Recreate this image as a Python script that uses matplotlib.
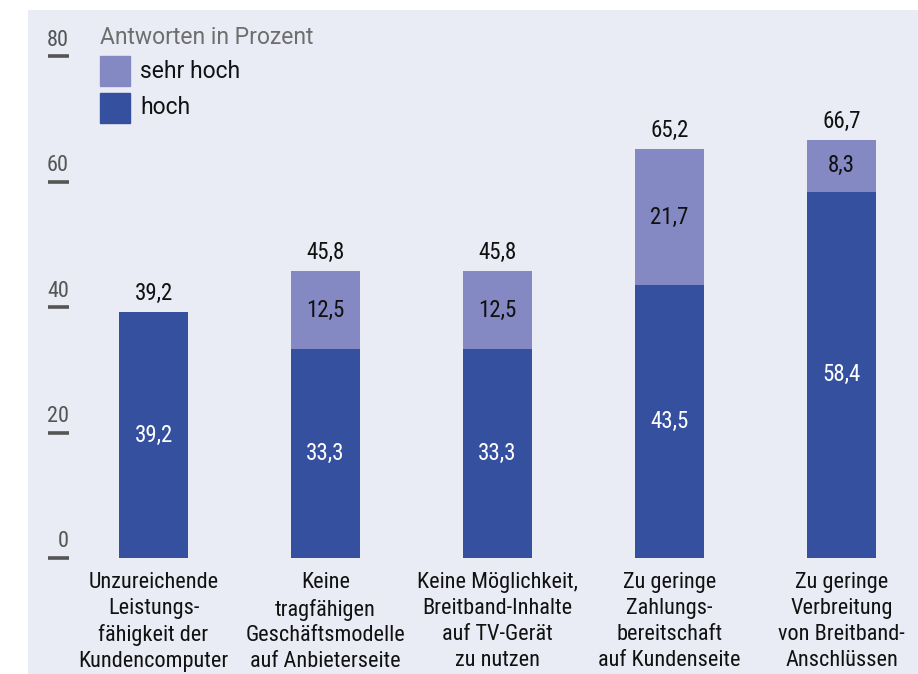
import os
import matplotlib
import matplotlib.pyplot as plt
import matplotlib.transforms as mtransforms
from matplotlib import font_manager

categories = ['Unzureichende\nLeistungs-\nfähigkeit der\nKundencomputer',
              'Keine\ntragfähigen\nGeschäftsmodelle\nauf Anbieterseite',
              'Keine Möglichkeit,\nBreitband-Inhalte\nauf TV-Gerät\nzu nutzen',
              'Zu geringe\nZahlungs-\nbereitschaft\nauf Kundenseite',
              'Zu geringe\nVerbreitung\nvon Breitband-\nAnschlüssen']
hoch = [39.2, 33.3, 33.3, 43.5, 58.4]
sehr_hoch = [0, 12.5, 12.5, 21.7, 8.3]
totals = [39.2, 45.8, 45.8, 65.2, 66.7]
yticks = [0, 20, 40, 60, 80]

bg = '#EAECF5'
c_hoch = '#34509E'
c_sehr = '#8489C4'

# look for a narrow font, the original uses a condensed grotesk
wanted = ['LiberationSansNarrow-Regular', 'RobotoCondensed-Regular', 'DejaVuSansCondensed.ttf']
font_path = None
for w in wanted:
    for f in font_manager.fontManager.ttflist:
        if w in os.path.basename(f.fname):
            font_path = f.fname
            break
    if font_path:
        break
if font_path:
    fp = font_manager.FontProperties(fname=font_path)
    scale = 1.0
else:
    fp = font_manager.FontProperties(family='Roboto')
    scale = 0.93


def txt(size):
    p = fp.copy()
    p.set_size(size * scale)
    return p


W, H = 918, 674
fig = plt.figure(figsize=(W / 100, H / 100), dpi=100)
fig.patch.set_facecolor('white')

# panel covers x 28..918, y 10..674 (pixels from top)
ax = fig.add_axes([28 / W, 0, 1 - 28 / W, 1 - 10 / H])
ax.set_facecolor(bg)
for s in ax.spines.values():
    s.set_visible(False)
ax.set_xticks([])
ax.set_yticks([])

px_unit = 6.27
x0, dx = 153.5, 172.0
ax.set_xlim((28 - x0) / dx, (918 - x0) / dx)
ax.set_ylim(-(674 - 558) / px_unit, (558 - 10) / px_unit)

x = list(range(len(categories)))
ax.bar(x, hoch, width=0.4, color=c_hoch)
ax.bar(x, sehr_hoch, width=0.4, bottom=hoch, color=c_sehr)

fs = 16
fs_val = 16.5
for i in x:
    ax.text(i, hoch[i] / 2, f'{hoch[i]:.1f}'.replace('.', ','), ha='center', va='center',
            color='white', fontproperties=txt(fs_val))
    if sehr_hoch[i] > 0:
        ax.text(i, hoch[i] + sehr_hoch[i] / 2, f'{sehr_hoch[i]:.1f}'.replace('.', ','),
                ha='center', va='center', color='#111111', fontproperties=txt(fs_val))
    ax.annotate(f'{totals[i]:.1f}'.replace('.', ','), (i, totals[i]), xytext=(0, 5),
                textcoords='offset points', ha='center', va='bottom', color='#111111',
                fontproperties=txt(fs_val))
    ax.text(i, -2.3, categories[i], ha='center', va='top', color='#111111',
            fontproperties=txt(fs), linespacing=1.3)

# y axis: numbers sitting on small dashes
trans = mtransforms.blended_transform_factory(fig.transFigure, ax.transData)
for t in yticks:
    ax.plot([48 / W, 69 / W], [t, t], transform=trans, color='#555555', lw=2.6,
            solid_capstyle='butt', clip_on=False)
    ax.text(69 / W, t + 0.9, str(t), transform=trans, ha='right', va='bottom',
            color='#555555', fontproperties=txt(fs))

# legend, set in the normal width face
leg_font = dict(family=['Roboto', 'DejaVu Sans'], size=16.5)
fig.text(100 / W, 1 - 37 / H, 'Antworten in Prozent', ha='left', va='center',
         color='#6E6E6E', **leg_font)
for label, col, ytop in [('sehr hoch', c_sehr, 56), ('hoch', c_hoch, 93)]:
    fig.patches.append(plt.Rectangle((100 / W, 1 - (ytop + 30) / H), 30 / W, 30 / H,
                                     transform=fig.transFigure, color=col))
    fig.text(140 / W, 1 - (ytop + 15) / H, label, ha='left', va='center',
             color='#111111', **leg_font)

fig.savefig('out.png', dpi=100)
